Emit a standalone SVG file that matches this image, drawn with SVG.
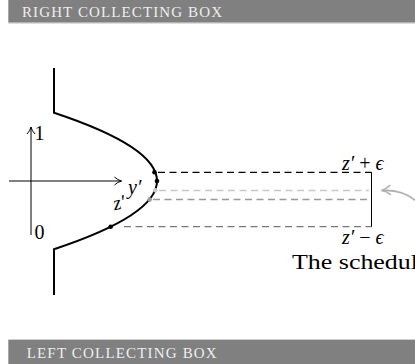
<svg xmlns="http://www.w3.org/2000/svg" width="415" height="364" viewBox="0 0 415 364">
<defs>
<style>
.bar{fill:#808080}
.barline{stroke:#cfcfcf;stroke-width:1}
.hdr{font-family:"Liberation Serif",serif;font-size:15px;fill:#eeeeee}
.math{font-family:"Liberation Serif",serif;font-size:20px;fill:#000}
.it{font-style:italic}
.dash{fill:none;stroke-dasharray:7 4.5;stroke-width:1.3}
.thick{fill:none;stroke:#000;stroke-width:2}
.thin{fill:none;stroke:#000;stroke-width:1}
</style>
<marker id="ah" viewBox="0 0 10 10" refX="9" refY="5" markerWidth="10" markerHeight="10" markerUnits="userSpaceOnUse" orient="auto">
<path d="M2,1 Q5,4 9,5 Q5,6 2,9" fill="none" stroke="#000" stroke-width="1"/>
</marker>
<marker id="ahg" viewBox="0 0 12 12" refX="11" refY="6" markerWidth="12" markerHeight="12" markerUnits="userSpaceOnUse" orient="auto">
<path d="M2,1 Q6,5 11,6 Q6,7 2,11" fill="none" stroke="#b0b0b0" stroke-width="1.6"/>
</marker>
</defs>
<g id="header-top">
<rect class="bar" x="8.3" y="0" width="407" height="22.7"/>
<line class="barline" x1="8.3" y1="23.2" x2="415" y2="23.2"/>
<text class="hdr" x="22" y="16.7" textLength="200" lengthAdjust="spacing">RIGHT COLLECTING BOX</text>
</g>
<g id="header-bottom">
<line class="barline" x1="8.3" y1="339.5" x2="415" y2="339.5"/>
<rect class="bar" x="8.3" y="340" width="407" height="24"/>
<text class="hdr" x="26.7" y="357.5" textLength="190" lengthAdjust="spacing">LEFT COLLECTING BOX</text>
</g>
<g id="axes">
<line class="thin" x1="9" y1="181" x2="121.5" y2="181" marker-end="url(#ah)"/>
<line class="thin" x1="31" y1="235" x2="31" y2="127" marker-end="url(#ah)"/>
<text class="math" x="34.5" y="139.5">1</text>
<text class="math" x="34.5" y="238.5">0</text>
</g>
<g id="profile">
<path class="thick" d="M54,68 L54,112.8 Q260,181 54,249.2 L54,295"/>
</g>
<g id="connectors">
<line class="dash" stroke="#000" x1="158" y1="172.3" x2="371.5" y2="172.3"/>
<line class="dash" stroke="#c8c8c8" x1="159" y1="190.5" x2="369" y2="190.5"/>
<line class="dash" stroke="#999999" x1="153" y1="199.5" x2="369" y2="199.5"/>
<line class="dash" stroke="#777777" stroke-width="1.6" x1="124" y1="226.7" x2="371.5" y2="226.7"/>
<line class="thin" x1="371.5" y1="172.3" x2="371.5" y2="226.7"/>
<path d="M418,203 Q404,189 381.5,190.5" fill="none" stroke="#b0b0b0" stroke-width="1.6" marker-end="url(#ahg)"/>
</g>
<g id="dots">
<circle cx="154.5" cy="172.3" r="2.3" fill="#000"/>
<circle cx="157" cy="181" r="2.3" fill="#000"/>
<circle cx="155.3" cy="190.3" r="2.3" fill="#c8c8c8"/>
<circle cx="149.6" cy="199.6" r="2.3" fill="#999999"/>
<circle cx="110.7" cy="226.7" r="2.3" fill="#000"/>
</g>
<g id="labels">
<text class="math it" x="113" y="209" transform="rotate(-12 120 203)">z′</text>
<text class="math it" x="128" y="193.5">y′</text>
<text class="math" x="342" y="170"><tspan class="it">z′</tspan> + <tspan class="it">ϵ</tspan></text>
<text class="math" x="342" y="244"><tspan class="it">z′</tspan> − <tspan class="it">ϵ</tspan></text>
<text class="math" x="292" y="268.5" style="font-size:22px" textLength="126" lengthAdjust="spacingAndGlyphs">The schedul</text>
</g>
</svg>
